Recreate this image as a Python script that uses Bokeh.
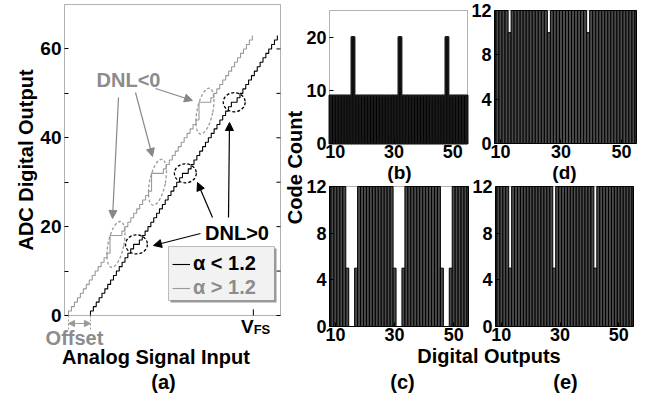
import math
from bokeh.plotting import figure
from bokeh.layouts import row
from bokeh.models import (Range1d, FixedTicker, Label, Arrow, NormalHead, LinearAxis,
                          BoxAnnotation, Legend, LegendItem)
from bokeh.core.properties import value
from bokeh.embed import file_html
from bokeh.resources import INLINE

FONT = "Liberation Sans"
GRAY_LINE = "#9a9a9a"
GRAY_TEXT = "#8c8c8c"

# ---------------- data ----------------
# (a) transfer curves: width (in LSB) of output codes 1..62
black_start = 8.9          # input where the alpha<1.2 curve leaves code 0
black_lsb = 0.985
black_code_widths = [
    1, 1, 1, 1, 1, 1, 1, 1, 1, 1,
    1, 1, 1, 1, 1, 2, 1, 1, 1, 1,
    1, 1, 1, 1, 1, 1, 1, 1, 1, 1,
    1, 2, 1, 1, 1, 1, 1, 1, 1, 1,
    1, 1, 1, 1, 1, 1, 1, 2, 1, 1,
    1, 1, 1, 1, 1, 1, 1, 1, 1, 1,
    1, 1,
]
gray_start = 1.37          # input where the alpha>1.2 curve leaves code 0
gray_lsb = 1.016
gray_code_widths = [
    1, 1, 1, 1, 1, 1, 1, 1, 1, 1,
    1, 1, 1, 1, 0, 0, 0, 4, 1, 1,
    1, 1, 1, 1, 1, 1, 1, 1, 0, 0,
    0, 4, 1, 1, 1, 1, 1, 1, 1, 1,
    1, 1, 1, 1, 0, 0, 0, 4, 1, 1,
    1, 1, 1, 1, 1, 1, 1, 1, 1, 1,
    1, 1,
]
vfs_x = 64.7
a_xmax = 74
a_ymax = 70
a_yticks = [0, 10, 20, 30, 40, 50, 60]
a_ylabels = {10: "", 30: "", 50: ""}

# histograms: code counts for output codes 8..55
hist_codes = list(range(8, 56))
hist_xlim = (8, 55)
hist_xticks = [10, 30, 50]
hist_b = [
    9, 9, 9, 9, 9, 9, 9, 9,
    20, 9, 9, 9, 9, 9, 9, 9,
    9, 9, 9, 9, 9, 9, 9, 9,
    20, 9, 9, 9, 9, 9, 9, 9,
    9, 9, 9, 9, 9, 9, 9, 9,
    20, 9, 9, 9, 9, 9, 9, 9,
]
hist_c = [
    12, 12, 12, 12, 12, 12, 5, 0,
    0, 5, 12, 12, 12, 12, 12, 12,
    12, 12, 12, 12, 12, 12, 5, 0,
    0, 5, 12, 12, 12, 12, 12, 12,
    12, 12, 12, 12, 12, 12, 5, 0,
    0, 5, 12, 12, 12, 12, 12, 12,
]
hist_d = [
    12, 12, 12, 12, 12, 10, 12, 12,
    12, 12, 12, 12, 12, 12, 12, 12,
    12, 12, 10, 12, 12, 12, 12, 12,
    12, 12, 12, 12, 12, 12, 12, 10,
    12, 12, 12, 12, 12, 12, 12, 12,
    12, 12, 12, 12, 12, 12, 12, 12,
]
hist_e = [
    12, 12, 12, 12, 12, 5, 12, 12,
    12, 12, 12, 12, 12, 12, 12, 12,
    12, 12, 12, 12, 5, 12, 12, 12,
    12, 12, 12, 12, 12, 12, 12, 12,
    12, 12, 5, 12, 12, 12, 12, 12,
    12, 12, 12, 12, 12, 12, 12, 12,
]

# ---------------- helpers ----------------
def staircase(start, lsb, widths):
    t = [start]
    for w in widths:
        t.append(t[-1] + w * lsb)
    xs, ys = [], []
    for k, tk in enumerate(t, start=1):
        xs += [tk, tk]
        ys += [k - 1, k]
    return xs, ys, t

# placement helpers: panel (a) page pixels -> its data units
def ax(px):
    return (px - 64) / 216 * a_xmax

def ay(py):
    return (315 - py) / 311 * a_ymax

def style_axis(axis, size="19px"):
    axis.axis_line_color = None
    axis.major_tick_in = 4
    axis.major_tick_out = 0
    axis.minor_tick_in = 0
    axis.minor_tick_out = 0
    axis.major_tick_line_color = "black"
    axis.major_label_text_font = FONT
    axis.major_label_text_font_style = "bold"
    axis.major_label_text_font_size = size
    axis.major_label_text_color = "black"

def label(p, x, y, text, size="20px", color="black", align="center", angle=0):
    p.add_layout(Label(x=x, y=y, text=text, text_font=FONT, text_font_style="bold",
                       text_font_size=size, text_color=color, text_align=align,
                       text_baseline="middle", angle=angle))

def bare(p):
    p.grid.visible = False
    p.outline_line_color = None

# ---------------- panel (a): one frame over the whole column ----------------
pa = figure(width=282, height=396, x_range=Range1d(ax(0), ax(282)),
            y_range=Range1d(ay(396), ay(0)),
            output_backend="svg", toolbar_location=None, x_axis_location=None,
            min_border=0)
bare(pa)
pa.add_layout(BoxAnnotation(left=0, right=a_xmax, bottom=0, top=a_ymax,
                            fill_color=None, line_color="black", line_width=1))

style_axis(pa.yaxis[0])
pa.yaxis.fixed_location = 0
pa.yaxis.ticker = FixedTicker(ticks=a_yticks)
pa.yaxis.major_label_overrides = a_ylabels
pa.yaxis.major_label_standoff = 3
label(pa, ax(25), ay(159.5), "ADC Digital Output", angle=math.pi / 2)

# inward ticks on the right-hand side of the box
pa.segment(x0=[a_xmax] * len(a_yticks), y0=a_yticks,
           x1=[a_xmax - 1.4] * len(a_yticks), y1=a_yticks, line_color="black", line_width=1)

bx, by, bt = staircase(black_start, black_lsb, black_code_widths)
gx, gy, gt = staircase(gray_start, gray_lsb, gray_code_widths)
r_gray = pa.line(gx, gy, line_color=GRAY_LINE, line_width=1.1)
r_black = pa.line(bx, by, line_color="black", line_width=1.1)

# full-scale tick on the input axis
pa.segment(x0=[vfs_x], y0=[0], x1=[vfs_x], y1=[1.4], line_color="black", line_width=1)

# DNL regions marked by dashed ellipses (codes wider than one LSB)
b_codes = [i + 1 for i, w in enumerate(black_code_widths) if w > 1]
g_codes = [i + 1 for i, w in enumerate(gray_code_widths) if w > 1]
pa.ellipse(x=[(bt[c - 1] + bt[c]) / 2 for c in b_codes], y=b_codes,
           width=7.5, height=4.3, fill_color=None, line_color="black",
           line_dash="3 2", line_width=1.3)
pa.ellipse(x=[(gt[c - 1] + gt[c]) / 2 for c in g_codes], y=[c - 2 for c in g_codes],
           width=5.4, height=10.5, angle=-0.2, fill_color=None, line_color=GRAY_LINE,
           line_dash="3 2", line_width=1.3)

def arrow(p, x0, y0, x1, y1, color):
    p.add_layout(Arrow(end=NormalHead(size=8, fill_color=color, line_color=color),
                       x_start=x0, y_start=y0, x_end=x1, y_end=y1,
                       line_color=color, line_width=1.2))

for (p0, p1) in [((118, 97), (112, 218)), ((135, 92), (152, 156)), ((155, 88), (192, 100))]:
    arrow(pa, ax(p0[0]), ay(p0[1]), ax(p1[0]), ay(p1[1]), "#888888")
for (p0, p1) in [((200, 233), (153, 245)), ((212, 217), (197, 182)), ((228, 217), (229, 122))]:
    arrow(pa, ax(p0[0]), ay(p0[1]), ax(p1[0]), ay(p1[1]), "black")

label(pa, ax(128), ay(79), "DNL<0", color=GRAY_TEXT)
label(pa, ax(236.5), ay(232), "DNL>0")

# legend box
pa.add_layout(BoxAnnotation(left=ax(170), right=ax(276), top=ay(248), bottom=ay(302),
                            fill_color="#9a9a9a", fill_alpha=1, line_color=None))
pa.add_layout(BoxAnnotation(left=ax(168), right=ax(274), top=ay(246), bottom=ay(300),
                            fill_color="#f2f2f2", fill_alpha=1, line_color="#333333",
                            line_width=1))
for item, rend, col, vy in [("α < 1.2", r_black, "black", 121), ("α > 1.2", r_gray, GRAY_TEXT, 97)]:
    pa.add_layout(Legend(items=[LegendItem(label=value(item), renderers=[rend])],
                         location=(172, vy), padding=0, margin=0, spacing=0,
                         border_line_color=None, background_fill_alpha=0,
                         label_text_font=FONT, label_text_font_style="bold",
                         label_text_font_size="20px", label_text_color=col,
                         glyph_width=18, glyph_height=20, label_height=20, label_standoff=3))

# offset marker and input-axis texts
for xs in (gray_start, black_start):
    pa.add_layout(Arrow(end=None, x_start=xs, y_start=0, x_end=xs, y_end=ay(330),
                        line_color=GRAY_LINE, line_dash="2 2", line_width=1))
pa.add_layout(Arrow(start=NormalHead(size=6, fill_color=GRAY_LINE, line_color=GRAY_LINE),
                    end=NormalHead(size=6, fill_color=GRAY_LINE, line_color=GRAY_LINE),
                    x_start=gray_start, y_start=ay(323), x_end=black_start, y_end=ay(323),
                    line_color=GRAY_LINE, line_width=1))
label(pa, ax(74), ay(337), "Offset", color=GRAY_TEXT)
label(pa, vfs_x + 0.1, ay(326), "V", size="19px", align="right")
label(pa, vfs_x + 0.1, ay(328.5), "FS", size="13px", align="left")
label(pa, ax(155.5), ay(356.5), "Analog Signal Input")
label(pa, ax(163), ay(381.5), "(a)")

# ---------------- histogram block: one frame, one pair of ranges per panel ----------------
RW, RH = 364, 396
pr = figure(width=RW, height=RH, x_range=Range1d(0, RW), y_range=Range1d(0, RH),
            output_backend="svg", toolbar_location=None, min_border=0,
            x_axis_location=None, y_axis_location=None)
bare(pr)

def span_range(p0, p1, d0, d1, total):
    s = (d1 - d0) / (p1 - p0)
    return Range1d(d0 - p0 * s, d0 + (total - p0) * s)

# panel boxes in block pixels: (left, right, bottom, top), y measured from the bottom
panels = {
    "b": (hist_b, 25, [0, 10, 20], "black", "#1a1a1a", 2, (47, 185, 253, 386)),
    "d": (hist_d, 12, [0, 4, 8, 12], "#4a4a4a", "black", 1, (212, 354, 253, 386)),
    "c": (hist_c, 12, [0, 4, 8, 12], "#4a4a4a", "black", 1, (47, 186, 70, 210)),
    "e": (hist_e, 12, [0, 4, 8, 12], "#4a4a4a", "black", 1, (213, 351, 70, 210)),
}
xr, yr = {}, {}
for name, (counts, ymax, yticks, fill, line, lw, (l, r, b, t)) in panels.items():
    xr["x" + name] = span_range(l, r, hist_xlim[0], hist_xlim[1], RW)
    yr["y" + name] = span_range(b, t, 0, ymax, RH)
pr.extra_x_ranges = xr
pr.extra_y_ranges = yr

for name, (counts, ymax, yticks, fill, line, lw, box) in panels.items():
    xn, yn = "x" + name, "y" + name
    left = [max(c - 0.5, hist_xlim[0]) for c in hist_codes]
    right = [min(c + 0.5, hist_xlim[1]) for c in hist_codes]
    pr.quad(left=left, right=right, bottom=0, top=counts, fill_color=fill,
            line_color=line, line_width=lw, x_range_name=xn, y_range_name=yn)
    pr.add_layout(BoxAnnotation(left=hist_xlim[0], right=hist_xlim[1], bottom=0, top=ymax,
                                x_range_name=xn, y_range_name=yn, fill_color=None,
                                line_color="black", line_width=1))
    yax = LinearAxis(x_range_name=xn, y_range_name=yn, fixed_location=hist_xlim[0],
                     ticker=FixedTicker(ticks=yticks))
    style_axis(yax, "18px")
    yax.major_label_standoff = 3
    pr.add_layout(yax, "left")
    xax = LinearAxis(x_range_name=xn, y_range_name=yn, fixed_location=0,
                     ticker=FixedTicker(ticks=hist_xticks))
    style_axis(xax, "18px")
    xax.major_label_standoff = 1
    pr.add_layout(xax, "below")

label(pr, 12, 229, "Code Count", angle=math.pi / 2)
label(pr, 117, 224, "(b)", size="19px")
label(pr, 282, 224, "(d)", size="19px")
label(pr, 206.5, 41, "Digital Outputs")
label(pr, 120, 15, "(c)")
label(pr, 283, 15, "(e)")

layout = row(pa, pr)

open("out.html", "w").write(file_html(layout, INLINE))
